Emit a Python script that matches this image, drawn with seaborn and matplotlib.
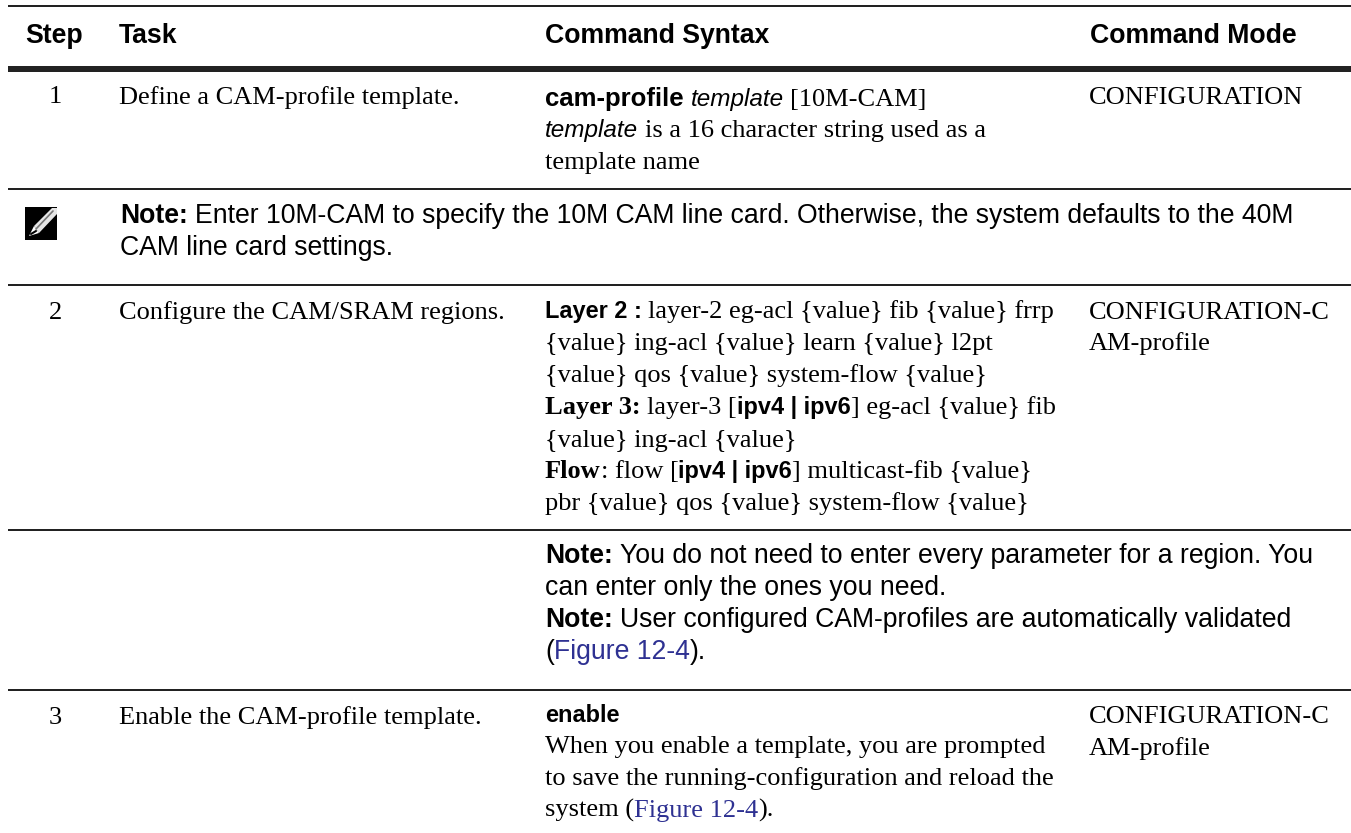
import matplotlib
matplotlib.use("Agg")
import matplotlib.pyplot as plt
import seaborn as sns
from matplotlib.patches import Rectangle, Polygon

sns.set_theme(style="white")

W, H = 1351, 833
SERIF = "Liberation Serif"
SANS = "Liberation Sans"
LINK = "#2e3192"
BODY_SIZE = 19.0
NOTE_SIZE = 19.15
HEAD_SIZE = 19.2

# tags: r serif, b serif bold, s sans, B sans bold, C command bold, K keyword bold,
# i sans italic, l serif link, n sans link
header_labels = ["Step", "Task", "Command Syntax", "Command Mode"]
step_numbers = ["1", "2", "3"]
task_labels = ["Define a CAM-profile template.", "Configure the CAM/SRAM regions.", "Enable the CAM-profile template."]
mode_row1 = ["CONFIGURATION"]
mode_row2 = ["CONFIGURATION-C", "AM-profile"]
syntax_row1 = [
    [("cam-profile", "C"), (" ", "C"), ("template", "i"), (" [10M-CAM]", "r")],
    [("template", "i"), (" is a 16 character string used as a", "r")],
    [("template name", "r")],
]
note_row1 = [
    [("Note:", "B"), (" Enter 10M-CAM to specify the 10M CAM line card. Otherwise, the system defaults to the 40M", "s")],
    [("CAM line card settings.", "s")],
]
syntax_row2 = [
    [("Layer 2 :", "K"), (" layer-2 eg-acl {value} fib {value} frrp", "r")],
    [("{value} ing-acl {value} learn {value} l2pt", "r")],
    [("{value} qos {value} system-flow {value}", "r")],
    [("Layer 3:", "b"), (" layer-3 [", "r"), ("ipv4 | ipv6", "K"), ("] eg-acl {value} fib", "r")],
    [("{value} ing-acl {value}", "r")],
    [("Flow", "b"), (": flow [", "r"), ("ipv4 | ipv6", "K"), ("] multicast-fib {value}", "r")],
    [("pbr {value} qos {value} system-flow {value}", "r")],
]
note_row2 = [
    [("Note:", "B"), (" You do not need to enter every parameter for a region. You", "s")],
    [("can enter only the ones you need.", "s")],
    [("Note:", "B"), (" User configured CAM-profiles are automatically validated", "s")],
    [("(", "s"), ("Figure 12-4", "n"), (").", "s")],
]
syntax_row3 = [
    [("enable", "K")],
    [("When you enable a template, you are prompted", "r")],
    [("to save the running-configuration and reload the", "r")],
    [("system (", "r"), ("Figure 12-4", "l"), (").", "r")],
]

STYLES = {
    "r": dict(family=SERIF, fontsize=BODY_SIZE),
    "b": dict(family=SERIF, weight="bold", fontsize=BODY_SIZE),
    "s": dict(family=SANS, fontsize=NOTE_SIZE),
    "B": dict(family=SANS, weight="bold", fontsize=NOTE_SIZE),
    "C": dict(family=SANS, weight="bold", fontsize=18.5),
    "K": dict(family=SANS, weight="bold", fontsize=16.9),
    "H": dict(family=SANS, weight="bold", fontsize=HEAD_SIZE),
    "i": dict(family=SANS, style="italic", fontsize=17.5),
    "l": dict(family=SERIF, color=LINK, fontsize=BODY_SIZE),
    "n": dict(family=SANS, color=LINK, fontsize=NOTE_SIZE),
}

fig = plt.figure(figsize=(W / 100, H / 100), dpi=100, facecolor="white")
ax = fig.add_axes([0, 0, 1, 1])
ax.set_xlim(0, W)
ax.set_ylim(H, 0)
ax.axis("off")
rend = fig.canvas.get_renderer()


def put(x, y, runs):
    for txt, st in runs:
        kw = dict(color="black", va="baseline", ha="left")
        kw.update(STYLES[st])
        lead = len(txt) - len(txt.lstrip(" "))
        trail = len(txt) - len(txt.rstrip(" "))
        core = txt.strip(" ")
        space = ax.text(0, 0, "x x", **kw)
        nosp = ax.text(0, 0, "xx", **kw)
        sp = space.get_window_extent(rend).width - nosp.get_window_extent(rend).width
        space.remove()
        nosp.remove()
        if core:
            t = ax.text(x + lead * sp, y, core, **kw)
            x += t.get_window_extent(rend).width
            x += (lead + trail) * sp
        else:
            x += len(txt) * sp


def block(x, baselines, lines):
    for y, runs in zip(baselines, lines):
        put(x, y, runs)


def rule(y, lw):
    ax.add_patch(Rectangle((8, y - lw / 2), W - 8, lw, color="#222222", lw=0))


rule(5.5, 2)
rule(69, 5.5)
rule(188.5, 2)
rule(285, 2)
rule(530, 2)
rule(690, 2)

for x, lab in zip([25, 119, 545, 1090], header_labels):
    put(x, 43, [(lab, "H")])

for y, s in zip([103, 319, 724], step_numbers):
    ax.text(55.5, y, s, ha="center", va="baseline", fontsize=BODY_SIZE, family=SERIF, color="black")
for y, s in zip([104, 319, 724], task_labels):
    put(119, y, [(s, "r")])

block(545, [106, 137, 169], syntax_row1)
put(1089, 104, [(mode_row1[0], "r")])
block(120, [223, 255], note_row1)
block(545, [318, 350, 382, 414, 447, 478, 510], syntax_row2)
block(1089, [319, 350], [[(m, "r")] for m in mode_row2])
block(545, [563, 595, 627, 659], note_row2)
block(545, [722, 753, 785, 817], syntax_row3)
block(1089, [723, 755], [[(m, "r")] for m in mode_row2])

# note icon: black square with a white pencil
ax.add_patch(Rectangle((25, 207), 32, 33, color="black", lw=0))
ax.add_patch(Polygon([[34, 226], [52, 208], [57, 208], [57, 214], [39, 233]], closed=True, fc="#e6e6e6", ec="none"))
ax.add_patch(Polygon([[29, 236], [34, 226], [39, 233]], closed=True, fc="white", ec="none"))
ax.plot([36, 53], [229, 211], color="#777777", lw=1.2)
ax.plot([31, 36], [234, 231], color="black", lw=1.5)

fig.savefig("out.png", dpi=100)
